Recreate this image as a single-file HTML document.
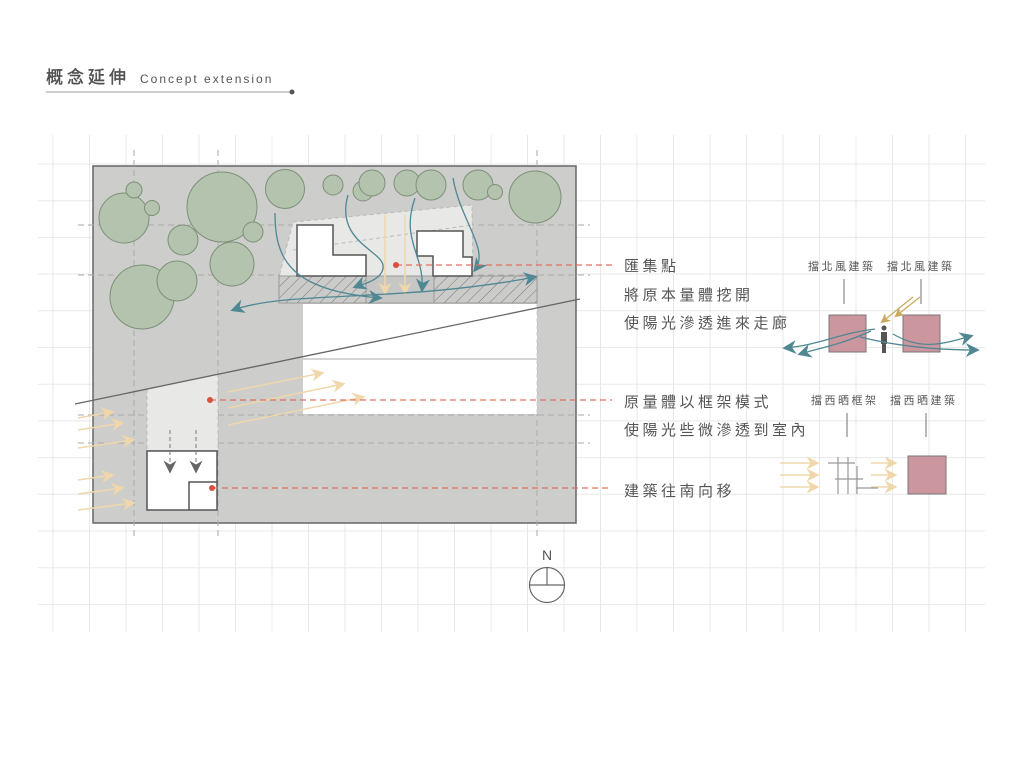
<!DOCTYPE html>
<html><head><meta charset="utf-8"><style>
html,body{margin:0;padding:0;background:#fff;}
svg{display:block;}
.t{font-family:"Liberation Sans","Noto Sans CJK TC",sans-serif;fill:#555;}
</style></head><body>
<svg width="1024" height="768" viewBox="0 0 1024 768" xmlns="http://www.w3.org/2000/svg">
<defs>
<pattern id="h" width="8" height="8" patternUnits="userSpaceOnUse" patternTransform="rotate(45)">
<rect width="8" height="8" fill="#cbcbc9"/><line x1="0" y1="0" x2="0" y2="8" stroke="#777" stroke-width="1"/></pattern>
<marker id="at" viewBox="0 0 10 10" refX="8" refY="5" markerWidth="14" markerHeight="14" orient="auto-start-reverse" markerUnits="userSpaceOnUse"><path d="M0,0 L10,5 L0,10 L3,5z" fill="#4f8893"/></marker>
<marker id="ao" viewBox="0 0 10 10" refX="8" refY="5" markerWidth="13" markerHeight="13" orient="auto" markerUnits="userSpaceOnUse"><path d="M0,0 L10,5 L0,10 L3,5z" fill="#efd7ab"/></marker>
<marker id="ay" viewBox="0 0 10 10" refX="8" refY="5" markerWidth="10" markerHeight="10" orient="auto" markerUnits="userSpaceOnUse"><path d="M0,0 L10,5 L0,10 L3,5z" fill="#c9a75c"/></marker>
<marker id="ag" viewBox="0 0 10 10" refX="8" refY="5" markerWidth="13" markerHeight="13" orient="auto" markerUnits="userSpaceOnUse"><path d="M0,0 L10,5 L0,10 L3,5z" fill="#666"/></marker>
</defs>
<!-- title -->
<text x="46" y="83" class="t" font-size="17" letter-spacing="4" fill="#444" stroke="#444" stroke-width="0.4">概念延伸</text>
<text x="140" y="83" class="t" font-size="12" letter-spacing="2" fill="#444">Concept extension</text>
<line x1="46" y1="92" x2="290" y2="92" stroke="#bbb" stroke-width="1.5"/>
<circle cx="292" cy="92" r="2.5" fill="#555"/>
<!-- grid -->
<g stroke="#e8e8e8" stroke-width="1">
<line x1="53" y1="135" x2="53" y2="632"/><line x1="89.5" y1="135" x2="89.5" y2="632"/><line x1="126" y1="135" x2="126" y2="632"/><line x1="162.5" y1="135" x2="162.5" y2="632"/><line x1="199" y1="135" x2="199" y2="632"/><line x1="235.5" y1="135" x2="235.5" y2="632"/><line x1="272" y1="135" x2="272" y2="632"/><line x1="308.5" y1="135" x2="308.5" y2="632"/><line x1="345" y1="135" x2="345" y2="632"/><line x1="381.5" y1="135" x2="381.5" y2="632"/><line x1="418" y1="135" x2="418" y2="632"/><line x1="454.5" y1="135" x2="454.5" y2="632"/><line x1="491" y1="135" x2="491" y2="632"/><line x1="527.5" y1="135" x2="527.5" y2="632"/><line x1="564" y1="135" x2="564" y2="632"/><line x1="600.5" y1="135" x2="600.5" y2="632"/><line x1="637" y1="135" x2="637" y2="632"/><line x1="673.5" y1="135" x2="673.5" y2="632"/><line x1="710" y1="135" x2="710" y2="632"/><line x1="746.5" y1="135" x2="746.5" y2="632"/><line x1="783" y1="135" x2="783" y2="632"/><line x1="819.5" y1="135" x2="819.5" y2="632"/><line x1="856" y1="135" x2="856" y2="632"/><line x1="892.5" y1="135" x2="892.5" y2="632"/><line x1="929" y1="135" x2="929" y2="632"/><line x1="965.5" y1="135" x2="965.5" y2="632"/>
<line x1="38" y1="164" x2="985" y2="164"/><line x1="38" y1="200.7" x2="985" y2="200.7"/><line x1="38" y1="237.4" x2="985" y2="237.4"/><line x1="38" y1="274" x2="985" y2="274"/><line x1="38" y1="310.8" x2="985" y2="310.8"/><line x1="38" y1="347.5" x2="985" y2="347.5"/><line x1="38" y1="384.2" x2="985" y2="384.2"/><line x1="38" y1="420.9" x2="985" y2="420.9"/><line x1="38" y1="457.6" x2="985" y2="457.6"/><line x1="38" y1="494.3" x2="985" y2="494.3"/><line x1="38" y1="531" x2="985" y2="531"/><line x1="38" y1="567.7" x2="985" y2="567.7"/><line x1="38" y1="604.4" x2="985" y2="604.4"/>
</g>
<!-- site -->
<rect x="93" y="166" width="483" height="357" fill="#cdcdcb" stroke="#666" stroke-width="1.5"/>
<g stroke="#aaa" stroke-width="1" stroke-dasharray="6,4" fill="none">
<line x1="134" y1="150" x2="134" y2="538"/><line x1="218" y1="150" x2="218" y2="538"/><line x1="537" y1="150" x2="537" y2="538"/>
<line x1="78" y1="225" x2="590" y2="225"/><line x1="78" y1="275" x2="590" y2="275"/><line x1="78" y1="415" x2="590" y2="415"/><line x1="78" y1="443" x2="590" y2="443"/>
</g>
<polygon points="293,222 472,205 473,277 279,277" fill="#e8e8e6" stroke="#bbb" stroke-dasharray="4,3"/>
<line x1="293" y1="250" x2="472" y2="225" stroke="#bbb" stroke-dasharray="4,3"/>
<g fill="#b3c3ad" stroke="#7d9078" stroke-width="1">
<circle cx="124" cy="218" r="25"/><circle cx="134" cy="190" r="8"/><circle cx="152" cy="208" r="7.5"/>
<circle cx="222" cy="207" r="35"/><circle cx="253" cy="232" r="10"/><circle cx="183" cy="240" r="15"/><circle cx="232" cy="264" r="22"/>
<circle cx="142" cy="297" r="32"/><circle cx="177" cy="281" r="20"/>
<circle cx="285" cy="189" r="19.5"/><circle cx="333" cy="185" r="10"/><circle cx="363" cy="191" r="10"/><circle cx="372" cy="183" r="13"/>
<circle cx="407" cy="183" r="13"/><circle cx="431" cy="185" r="15"/><circle cx="478" cy="185" r="15"/><circle cx="495" cy="192" r="7.5"/><circle cx="535" cy="197" r="26"/>
</g>
<rect x="279" y="276" width="258" height="27" fill="#c6c6c4" stroke="#999"/>
<rect x="279" y="276" width="87" height="27" fill="url(#h)" stroke="#999"/>
<rect x="434" y="276" width="103" height="27" fill="url(#h)" stroke="#999"/>
<polygon points="297,225 333,225 333,255 366,255 366,276 297,276" fill="#fff" stroke="#555" stroke-width="1.5"/>
<polygon points="417,231 463,231 463,257 472,257 472,276 433,276 433,256 417,256" fill="#fff" stroke="#555" stroke-width="1.5"/>
<rect x="303" y="304" width="234" height="110" fill="#fff"/>
<line x1="303" y1="359" x2="537" y2="359" stroke="#aaa"/>
<line x1="537" y1="304" x2="537" y2="414" stroke="#ccc" stroke-dasharray="4,3"/>
<polygon points="147,389 218,374 218,450 147,450" fill="#e8e8e6"/>
<line x1="147" y1="389" x2="147" y2="450" stroke="#bbb" stroke-dasharray="4,3"/>
<line x1="218" y1="374" x2="218" y2="450" stroke="#bbb" stroke-dasharray="4,3"/>
<rect x="147" y="451" width="70" height="59" fill="#fff" stroke="#555" stroke-width="1.5"/>
<polyline points="189,510 189,482 217,482" fill="none" stroke="#555" stroke-width="1.5"/>
<line x1="75" y1="404" x2="580" y2="299" stroke="#666" stroke-width="1.3"/>
<g stroke="#efd7ab" stroke-width="1.5" fill="none" marker-end="url(#ao)">
<line x1="385" y1="215" x2="385" y2="293"/><line x1="405" y1="215" x2="405" y2="293"/>
<line x1="228" y1="392" x2="322" y2="373"/><line x1="228" y1="408" x2="343" y2="384"/><line x1="228" y1="425" x2="363" y2="397"/>
<line x1="78" y1="418" x2="112" y2="412"/><line x1="78" y1="430" x2="122" y2="423"/><line x1="78" y1="448" x2="133" y2="440"/>
<line x1="78" y1="480" x2="112" y2="475"/><line x1="78" y1="494" x2="122" y2="488"/><line x1="78" y1="510" x2="133" y2="503"/>
</g>
<g stroke="#777" stroke-width="1" stroke-dasharray="4,3" marker-end="url(#ag)">
<line x1="170" y1="430" x2="170" y2="471"/><line x1="196" y1="430" x2="196" y2="471"/>
</g>
<g stroke="#4f8893" stroke-width="1.3" fill="none">
<path d="M275,213 C275,260 290,290 380,298" marker-end="url(#at)"/>
<path d="M348,195 C335,240 380,250 383,265 C385,280 360,285 355,287" marker-end="url(#at)"/>
<path d="M415,198 C400,240 425,255 422,290" marker-end="url(#at)"/>
<path d="M453,178 C460,220 490,250 475,270" marker-end="url(#at)"/>
<path d="M233,310 C290,290 400,303 535,277" marker-start="url(#at)" marker-end="url(#at)"/>
</g>
<g stroke="#e0705f" stroke-width="1.2" stroke-dasharray="6,4">
<line x1="396" y1="265" x2="612" y2="265"/><line x1="210" y1="400" x2="612" y2="400"/><line x1="212" y1="488" x2="612" y2="488"/>
</g>
<circle cx="396" cy="265" r="3" fill="#d9503f"/><circle cx="210" cy="400" r="3" fill="#d9503f"/><circle cx="212" cy="488" r="3" fill="#d9503f"/>
<g class="t" font-size="15" letter-spacing="3.5" fill="#555">
<text x="624" y="271">匯集點</text>
<text x="624" y="300">將原本量體挖開</text>
<text x="624" y="328">使陽光滲透進來走廊</text>
<text x="624" y="407">原量體以框架模式</text>
<text x="624" y="435">使陽光些微滲透到室內</text>
<text x="624" y="496">建築往南向移</text>
</g>
<text x="547" y="560" class="t" font-size="14" text-anchor="middle" fill="#555">N</text>
<circle cx="547" cy="585" r="17.5" fill="none" stroke="#666" stroke-width="1.2"/>
<line x1="529.5" y1="585" x2="564.5" y2="585" stroke="#666" stroke-width="1.2"/>
<line x1="547" y1="567.5" x2="547" y2="585" stroke="#666" stroke-width="1.2"/>
<g class="t" font-size="11" letter-spacing="2.5" fill="#666">
<text x="808" y="270">擋北風建築</text><text x="887" y="270">擋北風建築</text>
<text x="811" y="404">擋西晒框架</text><text x="890" y="404">擋西晒建築</text>
</g>
<g stroke="#888" stroke-width="1.2">
<line x1="844" y1="279" x2="844" y2="304"/><line x1="921" y1="279" x2="921" y2="304"/>
<line x1="847" y1="413" x2="847" y2="437"/><line x1="926" y1="413" x2="926" y2="437"/>
</g>
<rect x="829" y="315" width="37" height="37" fill="#cc969f" stroke="#777"/>
<rect x="903" y="315" width="37" height="37" fill="#cc969f" stroke="#777"/>
<rect x="908" y="456" width="38" height="38" fill="#cc969f" stroke="#777"/>
<g stroke="#c9a75c" stroke-width="1.2" marker-end="url(#ay)">
<line x1="913" y1="297" x2="882" y2="322"/><line x1="920" y1="297" x2="896" y2="316"/>
</g>
<circle cx="884" cy="328" r="2.5" fill="#555"/>
<path d="M881,332 h6 v12 h-1 v9 h-4 v-9 h-1z" fill="#555"/>
<g stroke="#4f8893" stroke-width="1.3" fill="none">
<path d="M875,329 C840,333 820,345 785,348" marker-end="url(#at)"/>
<path d="M871,331 C840,345 820,348 800,354" marker-end="url(#at)"/>
<path d="M893,334 C920,350 940,345 971,336" marker-end="url(#at)"/>
<path d="M860,337 C900,347 940,350 977,350" marker-end="url(#at)"/>
</g>
<g stroke="#efd7ab" stroke-width="1.5" marker-end="url(#ao)">
<line x1="780" y1="463" x2="817" y2="463"/><line x1="780" y1="475" x2="817" y2="475"/><line x1="780" y1="487" x2="817" y2="487"/>
<line x1="871" y1="463" x2="895" y2="463"/><line x1="871" y1="475" x2="895" y2="475"/><line x1="871" y1="487" x2="895" y2="487"/>
</g>
<g stroke="#999" stroke-width="1.2">
<line x1="838" y1="457" x2="838" y2="494"/><line x1="848" y1="457" x2="848" y2="494"/><line x1="857" y1="466" x2="857" y2="494"/>
<line x1="828" y1="463" x2="855" y2="463"/><line x1="835" y1="479" x2="863" y2="479"/><line x1="856" y1="488" x2="878" y2="488"/>
</g>
</svg>
</body></html>
